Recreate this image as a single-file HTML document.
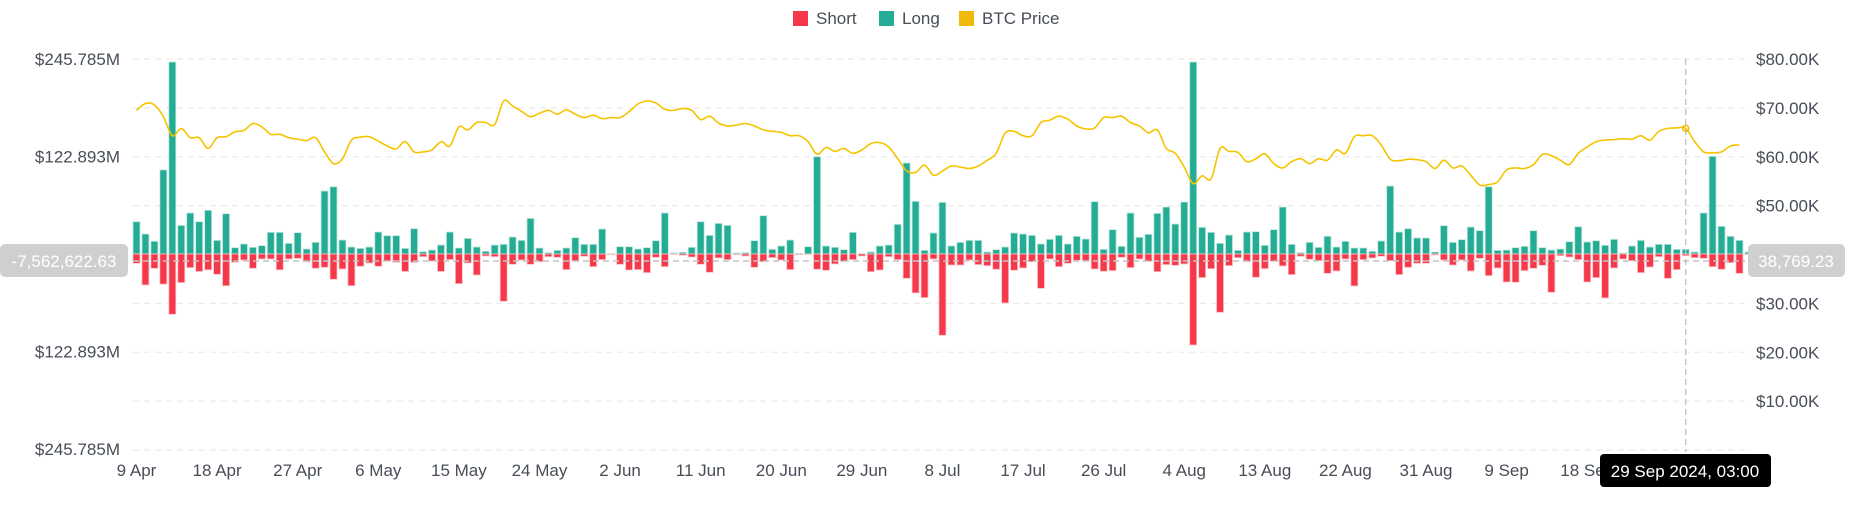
<!DOCTYPE html>
<html><head><meta charset="utf-8">
<style>
html,body{margin:0;padding:0;background:#fff;}
body{width:1852px;height:525px;overflow:hidden;font-family:"Liberation Sans",sans-serif;}
svg text{font-family:"Liberation Sans",sans-serif;}
</style></head>
<body>
<svg id="chart" width="1852" height="525" viewBox="0 0 1852 525" xmlns="http://www.w3.org/2000/svg">
  <g id="grid"></g>
  <g id="bars"></g>
  <g id="line"></g>
  <g id="axes"></g>
  <g>
    <rect x="793" y="11" width="15" height="15" fill="#f6394a"/>
    <text x="816" y="24" font-size="17" fill="#474d57">Short</text>
    <rect x="879" y="11" width="15" height="15" fill="#24ad94"/>
    <text x="902" y="24" font-size="17" fill="#474d57">Long</text>
    <rect x="959" y="11" width="15" height="15" fill="#f0b90b"/>
    <text x="982" y="24" font-size="17" fill="#474d57">BTC Price</text>
  </g>
</svg>
<script>
const longVals=[40.7,25.2,16,106,242,36,51.7,40.7,55,17.2,50.8,8,12.6,8.4,10.5,27.3,27.3,13.4,26.9,6.3,14.7,79.4,84.8,17.6,8.8,7.1,8.8,27.7,23.1,23.1,7.1,31.9,2.9,5,11.3,27.7,
7.6,19.7,8.8,3.4,11.3,12.2,21.4,17.2,44.9,7.6,1.7,4.6,7.6,20.6,12.2,12.2,31.5,0.4,9.2,9.2,6.3,8,16.8,51.7,1.3,2.1,8.4,40.7,23.5,38.6,36.1,1.3,1.7,16.8,48.3,5.9,
10.1,17.6,0.8,9.2,122.6,10.1,8.4,5.5,27.3,0.4,2.5,10.1,11.3,37.4,114.7,66.4,4.6,26.5,65.1,10.1,14.7,17.2,17.2,2.5,5.5,8.8,26.5,25.2,23.5,12.6,18.5,23.5,12.6,22.3,18.9,66,
5.9,30.7,9.7,51.7,21,24.8,51.2,59.2,37.8,65.5,242,33.6,27.3,13.4,23.9,4.6,27.7,28.1,10.9,30.7,59.2,12.2,1.7,14.7,8.4,22.3,8.8,16,7.6,7.6,3.4,16.4,85.7,27.7,31.9,20.2,
20.2,2.5,35.7,14.7,18.1,34,29.4,84.8,4.6,5,8,9.7,29.4,8,5,6.3,15.5,34.4,15.1,16.8,10.9,18.5,1.3,10.1,17.2,8.8,12.2,12.2,5.9,5.9,2.5,51.7,123.1,34.9,22.3,17.2,2.5];
const shortVals=[11.8,39,18.1,38,76,36,17.2,22,20,25.6,40,10.5,7.6,18,6.3,6.3,20,6.3,5.5,9.7,18,16.8,31.9,18.9,40,15.5,11.3,15.5,8.8,10.5,22,10.5,3.4,8.8,22,7.1,
37.4,11.3,26.5,2.5,3.4,59.6,13,7.6,13,9.7,3.4,4.2,19.7,8.8,2.9,16.0,7.1,0.8,13,20.2,19.7,23.5,4.2,16,0.4,1.7,3.8,13,23.1,5,7.1,0.8,2.5,16.8,9.7,4.6,
7.6,19.7,0.8,0.1,19.3,20.6,12.6,9.2,7.1,2.5,22.3,20.2,3.4,7.1,30.7,49.1,55,6.3,102.5,13.9,13.9,7.6,13.4,14.7,19.3,61.7,20.6,17.6,9.7,43.3,6.3,16,11.8,8,8.4,18.9,
21.8,21,4.2,17.2,6.3,9.2,22.3,13.4,14.3,12.6,114.7,29.8,18.5,73.5,14.7,4.6,9.7,29.4,18.5,9.2,15.1,26,2.9,6.7,8.4,24.4,21.4,6.3,40.3,7.1,5,2.9,8.4,26,16.8,11.8,
11.8,1.3,7.6,13.9,7.6,21.4,5.5,27.3,17.6,35.3,35.7,21,18.1,14.3,48.3,2.1,3.8,7.1,35.3,29.8,55.4,17.6,6.3,8.4,23.5,16.4,3.4,30.7,19.7,2.1,4.6,5.5,16,19.3,10.9,24.4,0.8];
const priceVals=[69.5,70.9,70.6,68.2,64.3,65.8,63.9,63.9,61.7,63.9,64.1,65.1,65.4,66.8,66.1,64.6,64.6,63.9,63.6,63.3,63.9,61.0,58.6,59.6,63.4,64.0,64.1,63.2,62.2,61.6,63.1,61.0,61.0,61.4,63.1,62.2,
66.1,65.5,67.0,67.0,66.6,71.4,70.4,69.3,68.2,68.9,69.5,68.7,69.6,68.7,68.0,68.5,67.8,68.0,68.0,69.2,70.8,71.4,71.0,69.7,69.5,69.9,69.5,67.6,68.3,66.9,66.3,66.5,66.8,66.3,65.5,65.2,
65.0,64.3,64.3,63.1,60.5,61.9,61.1,61.7,60.7,61.4,62.7,62.9,62.0,59.6,57.1,56.8,58.3,56.2,57.1,58.1,57.9,57.6,58.1,59.3,60.7,64.8,65.2,64.3,64.3,67.0,67.5,68.3,67.7,66.3,65.7,65.9,
68.0,68.0,68.3,67.0,66.3,64.9,65.5,61.7,60.7,57.9,54.5,56.1,55.5,61.7,61.1,60.9,59.0,59.6,60.6,58.6,57.7,59.0,59.6,58.6,59.6,59.3,61.4,60.7,64.1,64.3,64.3,62.4,59.5,59.2,59.5,
59.4,59.0,57.6,59.3,57.7,58.1,56.2,54.2,54.3,54.9,57.3,57.7,57.6,58.4,60.5,60.2,59.3,58.4,60.7,62.0,63.1,63.4,63.5,63.7,63.6,64.3,63.4,65.2,65.8,65.9,65.8,63.1,61.0,60.8,61.0,62.2,62.4];
const xTickLabels=["9 Apr","18 Apr","27 Apr","6 May","15 May","24 May","2 Jun","11 Jun","20 Jun","29 Jun","8 Jul","17 Jul","26 Jul","4 Aug","13 Aug","22 Aug","31 Aug","9 Sep","18 Sep"];
const leftTickVals=[245.785,122.893,-122.893,-245.785];
const leftTickLabels=["$245.785M","$122.893M","$122.893M","$245.785M"];
const rightTickVals=[80,70,60,50,40,30,20,10];
const rightTickLabels=["$80.00K","$70.00K","$60.00K","$50.00K","$40.00K","$30.00K","$20.00K","$10.00K"];

const NS="http://www.w3.org/2000/svg";
const X0=136.5, STEP=8.955, PL=133, PR=1745;
function xPos(i){return X0+i*STEP;}
function yLeft(v){return 254 - v/245.785*195;}
function yRight(p){return 450 - p*4.8875;}
function mk(tag,attrs,parent){const e=document.createElementNS(NS,tag);for(const k in attrs)e.setAttribute(k,attrs[k]);parent.appendChild(e);return e;}

const grid=document.getElementById('grid');
for(let k=0;k<=8;k++){
  const y=yRight(k*10);
  const g=mk('line',{x1:PL,x2:PR,y1:y,y2:y,stroke:'#ebebeb','stroke-width':1.2,'stroke-dasharray':'6,5'},grid);
  
  
}

const bars=document.getElementById('bars');
const bw=7;
longVals.forEach((v,i)=>{
  const y=yLeft(v);
  const r=mk('rect',{x:xPos(i)-bw/2,y:y,width:bw,height:254-y,fill:'#24ad94',stroke:'#bfe8df','stroke-width':0.8},bars);
  
  
});
shortVals.forEach((v,i)=>{
  const y=yLeft(-v);
  const r=mk('rect',{x:xPos(i)-bw/2,y:254,width:bw,height:y-254,fill:'#f6394a',stroke:'#f9c3c8','stroke-width':0.8},bars);
  
  
});

// crosshair lines
const ch=mk('line',{x1:PL,x2:PR,y1:261,y2:261,stroke:'#c4c4c4','stroke-width':1.6,'stroke-dasharray':'6,4'},bars);


const cv=mk('line',{x1:xPos(173),x2:xPos(173),y1:59,y2:452,stroke:'#c4c4c4','stroke-width':1.4,'stroke-dasharray':'6,4'},bars);



// price line (catmull-rom)
const pts=priceVals.map((p,i)=>[xPos(i),yRight(p)]);
let d='M'+pts[0][0]+','+pts[0][1];
for(let i=0;i<pts.length-1;i++){
  const p0=pts[Math.max(0,i-1)],p1=pts[i],p2=pts[i+1],p3=pts[Math.min(pts.length-1,i+2)];
  const c1x=p1[0]+(p2[0]-p0[0])/6,c1y=p1[1]+(p2[1]-p0[1])/6;
  const c2x=p2[0]-(p3[0]-p1[0])/6,c2y=p2[1]-(p3[1]-p1[1])/6;
  d+=` C${c1x.toFixed(1)},${c1y.toFixed(1)} ${c2x.toFixed(1)},${c2y.toFixed(1)} ${p2[0].toFixed(1)},${p2[1].toFixed(1)}`;
}
const lineG=document.getElementById('line');
const path=mk('path',{d:d,fill:'none',stroke:'#f5c400','stroke-width':1.6},lineG);


const dot=mk('circle',{cx:xPos(173),cy:yRight(priceVals[173]),r:3,fill:'none',stroke:'#f0b90b','stroke-width':1.5},lineG);



const axes=document.getElementById('axes');
leftTickVals.forEach((v,i)=>{
  const t=mk('text',{x:120,y:yLeft(v)+6,'text-anchor':'end','font-size':17,fill:'#474d57'},axes);
  t.textContent=leftTickLabels[i];
  
  
});
rightTickVals.forEach((v,i)=>{
  const t=mk('text',{x:1756,y:yRight(v)+6,'font-size':17,fill:'#474d57'},axes);
  t.textContent=rightTickLabels[i];
  
  
});
xTickLabels.forEach((s,i)=>{
  const t=mk('text',{x:xPos(i*9),y:476,'text-anchor':'middle','font-size':17,fill:'#474d57'},axes);
  t.textContent=s;
  
  
});

// badges
const lb=mk('rect',{x:0,y:244,width:128,height:33,rx:5,fill:'#cfcfcf'},axes);


const lt=mk('text',{x:64,y:267,'text-anchor':'middle','font-size':17,fill:'#ffffff'},axes);
lt.textContent='-7,562,622.63';


const rb=mk('rect',{x:1748,y:244,width:97,height:33,rx:5,fill:'#cfcfcf'},axes);


const rt=mk('text',{x:1796,y:267,'text-anchor':'middle','font-size':17,fill:'#ffffff'},axes);
rt.textContent='38,769.23';


const tb=mk('rect',{x:1600,y:454,width:171,height:33,rx:4,fill:'#000000'},axes);


const tt=mk('text',{x:1685,y:477,'text-anchor':'middle','font-size':17,fill:'#ffffff'},axes);
tt.textContent='29 Sep 2024, 03:00';


</script>
</body></html>
